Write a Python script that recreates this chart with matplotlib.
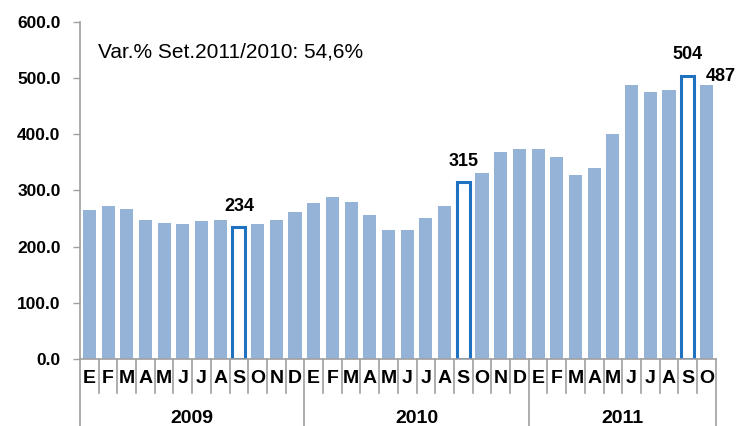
import matplotlib.pyplot as plt
import matplotlib.transforms as mtransforms
import numpy as np

plt.rcParams['font.family'] = ['Liberation Sans', 'DejaVu Sans']

months = ['E', 'F', 'M', 'A', 'M', 'J', 'J', 'A', 'S', 'O', 'N', 'D'] * 2 + \
         ['E', 'F', 'M', 'A', 'M', 'J', 'J', 'A', 'S', 'O']
years = ['2009', '2010', '2011']
months_per_year = [12, 12, 10]
values = [265, 273, 267, 247, 242, 240, 245, 248, 234, 240, 247, 262,
          278, 289, 280, 256, 230, 230, 251, 273, 315, 330, 369, 374,
          374, 359, 328, 339, 400, 488, 475, 479, 504, 487]
highlight = [8, 20, 32]          # September bars
labelled = {8: '234', 20: '315', 32: '504', 33: '487'}
note = 'Var.% Set.2011/2010: 54,6%'

fig = plt.figure(figsize=(7.38, 4.26), dpi=100)
ax = fig.add_axes([0.1084, 0.1573, 0.8614, 0.7917])

x = np.arange(len(values))
faces = ['white' if i in highlight else '#95B3D7' for i in x]
edges = ['#1F72C0' if i in highlight else '#95B3D7' for i in x]
lws = [2.2 if i in highlight else 0 for i in x]
ax.bar(x, values, width=0.7, color=faces, edgecolor=edges, linewidth=lws, zorder=2)

for i, txt in labelled.items():
    # last label sits up and to the right of its bar, as in the original
    off = (10, 6) if i == 33 else (0, 15)
    ax.annotate(txt, (x[i], values[i]), xytext=off, textcoords='offset points',
                ha='center', va='center', fontsize=13, fontweight='bold')

ax.text(0.029, 0.91, note, transform=ax.transAxes, fontsize=15, ha='left', va='center')

ax.set_xlim(-0.5, len(values) - 0.5)
ax.set_ylim(0, 600)
ax.set_yticks(np.arange(0, 601, 100))
ax.set_yticklabels([f'{v:.1f}' for v in np.arange(0, 601, 100)], fontsize=12.5, fontweight='bold')
ax.tick_params(axis='y', length=5, width=1, color='#A0A0A0', pad=9)
ax.set_xticks([])

for s in ['top', 'right']:
    ax.spines[s].set_visible(False)
for s in ['left', 'bottom']:
    ax.spines[s].set_color('#A0A0A0')
    ax.spines[s].set_linewidth(1.2)

# category axis: month labels, separators, year labels
trans = mtransforms.blended_transform_factory(ax.transData, ax.transAxes)
for i, m in enumerate(months):
    ax.text(x[i], -0.058, m, transform=trans, ha='center', va='center',
            fontsize=14, fontweight='bold')
bounds = np.arange(len(values) + 1) - 0.5
year_bounds = np.concatenate([[0], np.cumsum(months_per_year)]) - 0.5
for b in bounds:
    y_end = -0.24 if b in year_bounds else -0.1
    ax.plot([b, b], [0, y_end], transform=trans, color='#A0A0A0', lw=1.2, clip_on=False)
for k, yr in enumerate(years):
    cx = (year_bounds[k] + year_bounds[k + 1]) / 2
    ax.text(cx, -0.176, yr, transform=trans, ha='center', va='center',
            fontsize=14, fontweight='bold')

fig.savefig('out.png', dpi=100)
